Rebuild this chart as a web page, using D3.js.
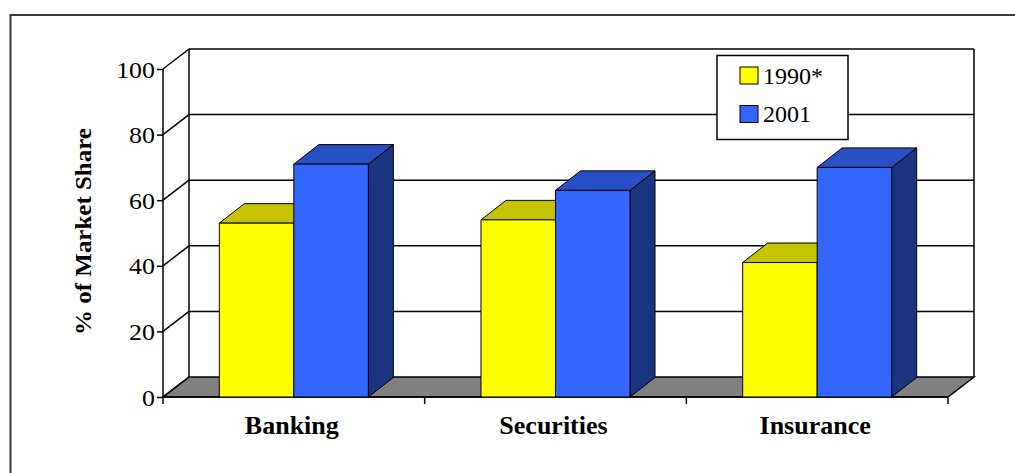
<!DOCTYPE html>
<html>
<head>
<meta charset="utf-8">
<script src="https://cdn.jsdelivr.net/npm/d3@7"></script>
<style>
  html, body { margin: 0; padding: 0; background: #fff; }
  svg { display: block; }
  svg text { font-family: "Liberation Serif", "DejaVu Serif", serif; fill: #000; }
</style>
</head>
<body>
<svg id="chart" width="1015" height="473"></svg>
<script>
// ---- data ----
const categories = ["Banking", "Securities", "Insurance"];
const seriesNames = ["1990*", "2001"];
const values1990 = [53, 54, 41];
const values2001 = [71, 63, 70];
const yTicks = [0, 20, 40, 60, 80, 100];
const yTitle = "% of Market Share";

// ---- styles ----
const colors = {
  "1990*": { front: "#FFFF00", top: "#C4C400", side: "#9A9A00" },
  "2001":  { front: "#3366FF", top: "#2850C4", side: "#1B347F" }
};
const SERIF = '"Liberation Serif", "DejaVu Serif", serif';
const STRETCH = 1.04;

const svg = d3.select("#chart");

// layout
const x0 = 163, x1 = 948, yBase = 397, yTopVal = 69;
const wallDx = 26, wallDy = -20;
const barDx = 25, barDy = -19.5;

const y = d3.scaleLinear().domain([0, 100]).range([yBase, yTopVal]);
const xCat = d3.scaleBand().domain(categories).range([x0, x1]).padding(0);
const xSer = d3.scaleBand().domain(seriesNames).range([0, xCat.bandwidth()])
  .paddingInner(0).paddingOuter(0.756);

function stretchText(sel, f) {
  sel.each(function () {
    const L = this.getComputedTextLength();
    d3.select(this).attr("textLength", L * f).attr("lengthAdjust", "spacingAndGlyphs");
  });
}

// outer frame
svg.append("rect")
  .attr("x", 10.5).attr("y", 15).attr("width", 1100).attr("height", 600)
  .attr("fill", "none").attr("stroke", "#3a3a3a").attr("stroke-width", 2);

const pts = a => a.map(p => p.join(",")).join(" ");

// floor
svg.append("polygon")
  .attr("points", pts([[x0, yBase], [x1, yBase], [x1 + wallDx, yBase + wallDy], [x0 + wallDx, yBase + wallDy]]))
  .attr("fill", "#808080").attr("stroke", "#000").attr("stroke-width", 1.5);

// walls & gridlines
const g = svg.append("g").attr("stroke", "#000").attr("stroke-width", 1.5).attr("fill", "none");
g.append("line").attr("x1", x0 + wallDx).attr("x2", x0 + wallDx).attr("y1", y(100) + wallDy).attr("y2", y(0) + wallDy);
g.append("line").attr("x1", x1 + wallDx).attr("x2", x1 + wallDx).attr("y1", y(100) + wallDy).attr("y2", y(0) + wallDy);
yTicks.forEach(t => {
  if (t === 0) return;
  g.append("line").attr("x1", x0 + wallDx).attr("x2", x1 + wallDx).attr("y1", y(t) + wallDy).attr("y2", y(t) + wallDy);
  g.append("line").attr("x1", x0).attr("x2", x0 + wallDx).attr("y1", y(t)).attr("y2", y(t) + wallDy);
});
g.append("line").attr("x1", x0).attr("x2", x0 + wallDx).attr("y1", y(0)).attr("y2", y(0) + wallDy);

// y axis
const yAxis = svg.append("g").attr("transform", `translate(${x0},0)`)
  .call(d3.axisLeft(y).tickValues(yTicks).tickSize(6).tickPadding(0).tickFormat(d3.format("d")));
yAxis.attr("font-family", null).attr("font-size", null);
yAxis.select(".domain").attr("stroke", "#000").attr("stroke-width", 1.5).attr("d", `M0,${y(0)}V${y(100)}`);
yAxis.selectAll(".tick line").attr("stroke", "#000").attr("stroke-width", 1.5);
yAxis.selectAll(".tick text")
  .attr("x", -8).attr("dy", null).attr("y", 8)
  .style("font-family", SERIF)
  .style("font-size", "24px").attr("fill", "#000");
stretchText(yAxis.selectAll(".tick text"), 1.08);

// x axis
const xAxisG = svg.append("g").attr("transform", `translate(0,${yBase})`);
xAxisG.append("line").attr("x1", x0).attr("x2", x1).attr("y1", 0).attr("y2", 0)
  .attr("stroke", "#000").attr("stroke-width", 1.5);
const boundaries = categories.map(c => xCat(c)).concat([x1]);
xAxisG.selectAll("line.tk").data(boundaries).enter().append("line")
  .attr("class", "tk").attr("x1", d => d).attr("x2", d => d).attr("y1", 0).attr("y2", 7)
  .attr("stroke", "#000").attr("stroke-width", 1.5);
const catText = xAxisG.selectAll("text.cat").data(categories).enter().append("text")
  .attr("class", "cat")
  .attr("x", d => xCat(d) + xCat.bandwidth() / 2 - 2)
  .attr("y", 37)
  .attr("text-anchor", "middle")
  .style("font-family", SERIF)
  .style("font-size", "25px").style("font-weight", "700")
  .text(d => d);
stretchText(catText, STRETCH);

// bars
const seriesData = [
  { name: "1990*", vals: values1990 },
  { name: "2001", vals: values2001 }
];
const bars = svg.append("g");
categories.forEach((c, ci) => {
  seriesData.forEach(s => {
    const v = s.vals[ci];
    const bx0 = xCat(c) + xSer(s.name);
    const bx1 = bx0 + xSer.bandwidth();
    const yt = y(v), yb = y(0);
    const col = colors[s.name];
    const bg = bars.append("g").attr("stroke", "#000").attr("stroke-width", 1).attr("stroke-linejoin", "round");
    bg.append("polygon")
      .attr("points", pts([[bx1, yt], [bx1 + barDx, yt + barDy], [bx1 + barDx, yb + barDy], [bx1, yb]]))
      .attr("fill", col.side);
    bg.append("polygon")
      .attr("points", pts([[bx0, yt], [bx0 + barDx, yt + barDy], [bx1 + barDx, yt + barDy], [bx1, yt]]))
      .attr("fill", col.top);
    bg.append("rect")
      .attr("x", bx0).attr("y", yt).attr("width", bx1 - bx0).attr("height", yb - yt)
      .attr("fill", col.front);
  });
});

// y title
const title = svg.append("text")
  .attr("transform", `translate(91,231.5) rotate(-90)`)
  .attr("text-anchor", "middle")
  .style("font-family", SERIF)
  .style("font-size", "24px").style("font-weight", "700")
  .text(yTitle);
stretchText(title, STRETCH);

// legend
const lg = svg.append("g");
lg.append("rect").attr("x", 717).attr("y", 55.5).attr("width", 131).attr("height", 84)
  .attr("fill", "#fff").attr("stroke", "#000").attr("stroke-width", 1.5);
seriesNames.forEach((n, i) => {
  const yy = 67 + i * 38.5;
  lg.append("rect").attr("x", 740).attr("y", yy).attr("width", 18).attr("height", 17)
    .attr("fill", colors[n].front).attr("stroke", "#000").attr("stroke-width", 1);
  lg.append("text").attr("x", 763).attr("y", yy + 16.5)
    .style("font-family", SERIF)
    .style("font-size", "24px").text(n);
});
</script>
</body>
</html>
